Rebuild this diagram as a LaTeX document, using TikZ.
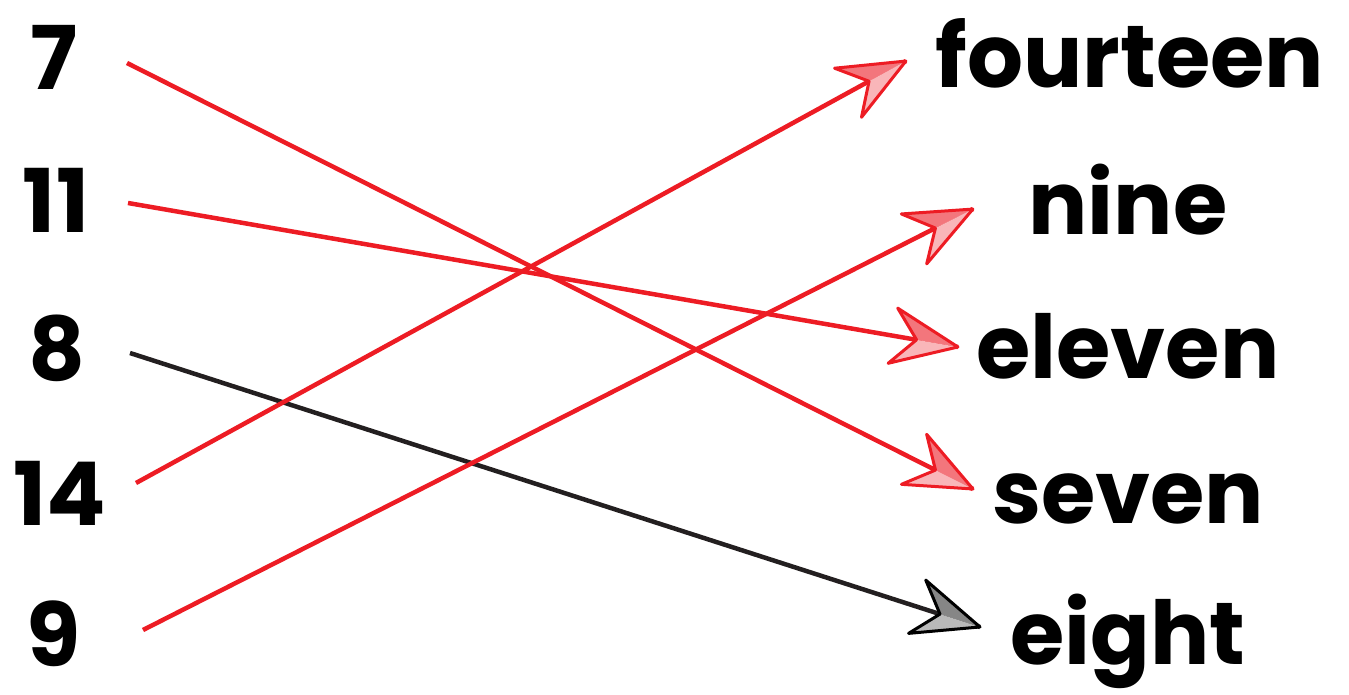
\documentclass[tikz,border=0pt]{standalone}
\usepackage{fontspec}
\setmainfont{Poppins}
\usetikzlibrary{decorations.markings}
\definecolor{matchred}{RGB}{237,28,36}
\definecolor{headdark}{RGB}{243,118,124}
\definecolor{headlight}{RGB}{249,182,185}
\definecolor{matchblack}{RGB}{35,31,32}
\tikzset{
  word/.style={anchor=base, inner sep=0pt, font=\fontsize{88}{96}\selectfont\bfseries},
  match head/.style n args={3}{
    postaction={
      decoration={
        markings,
        mark=at position 1 with {
          \fill[#2] (0pt,0pt) -- (-66pt,28pt) -- (-42pt,0pt) -- cycle;
          \fill[#3] (0pt,0pt) -- (-42pt,0pt) -- (-66pt,-28pt) -- cycle;
          \draw[#1, line width=3pt, line join=round]
            (0pt,0pt) -- (-66pt,28pt) -- (-42pt,0pt) -- (-66pt,-28pt) -- cycle;
        }
      },
      decorate
    }
  },
  red match/.style={draw=matchred, line width=4.5pt, match head={matchred}{headdark}{headlight}},
  black match/.style={draw=matchblack, line width=4.5pt, match head={black}{gray!95}{gray!55}}
}

\begin{document}
\begin{tikzpicture}[x=1pt, y=-1pt]
  \useasboundingbox (0,0) rectangle (1349,695);

  % Numbers on the left
  \node[word] (n7) at (54,90) {7};
  \node[word] (n11) at (56,233) {11};
  \node[word] (n8) at (57,380) {8};
  \node[word] (n14) at (60,525) {14};
  \node[word] (n9) at (54,666) {9};

  % Words on the right
  \node[word] (wfourteen) at (1130,88) {fourteen};
  \node[word] (wnine) at (1128,235) {nine};
  \node[word] (weleven) at (1128,378) {eleven};
  \node[word] (wseven) at (1128,523) {seven};
  \node[word] (weight) at (1128,664) {eight};

  % Line ends
  \coordinate (s7) at (127,63);
  \coordinate (s11) at (128,203);
  \coordinate (s8) at (130,353);
  \coordinate (s14) at (136,483);
  \coordinate (s9) at (143,630);
  \coordinate (tfourteen) at (906,61);
  \coordinate (tnine) at (973,209);
  \coordinate (televen) at (958,347);
  \coordinate (tseven) at (973,489);
  \coordinate (teight) at (980,627);

  % Matching arrows
  \draw[black match] (s8) -- (teight);
  \draw[red match] (s7) -- (tseven);
  \draw[red match] (s11) -- (televen);
  \draw[red match] (s14) -- (tfourteen);
  \draw[red match] (s9) -- (tnine);
\end{tikzpicture}
\end{document}
